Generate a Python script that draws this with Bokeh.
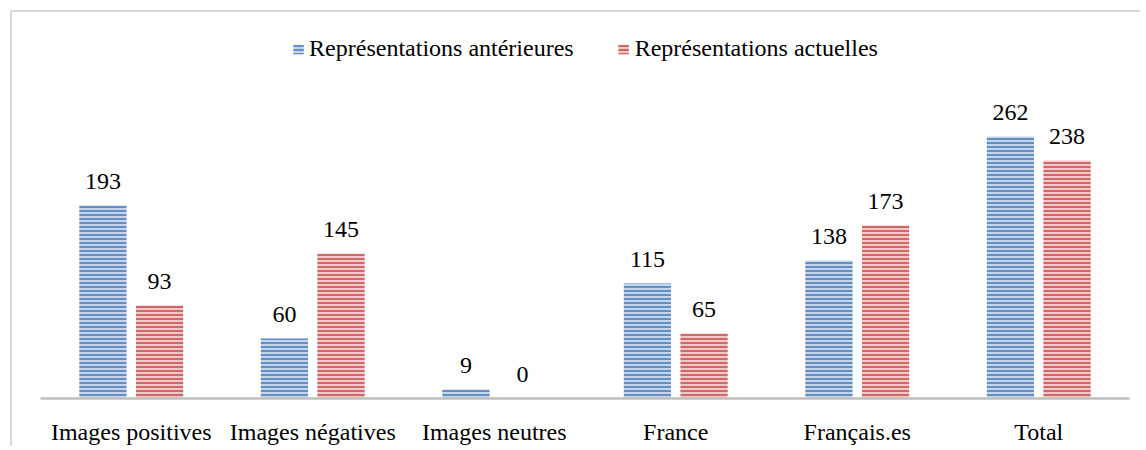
from bokeh.plotting import figure
from bokeh.models import ColumnDataSource, Range1d, LabelSet, Legend, LegendItem
from bokeh.core.properties import value
from bokeh.transform import dodge
from bokeh.embed import file_html
from bokeh.resources import INLINE

categories = ["Images positives", "Images négatives", "Images neutres", "France", "Français.es", "Total"]
anterieures = [193, 60, 9, 115, 138, 262]
actuelles = [93, 145, 0, 65, 173, 238]
series_names = ["Représentations antérieures", "Représentations actuelles"]

FONT = "Liberation Serif"
FS = "24px"

src = ColumnDataSource(dict(
    cat=categories,
    ant=anterieures,
    act=actuelles,
    ant_txt=[str(v) for v in anterieures],
    act_txt=[str(v) for v in actuelles],
))

p = figure(x_range=categories, y_range=Range1d(0, 386), width=1130, height=436,
           output_backend="svg", toolbar_location=None,
           min_border_left=28, min_border_right=13, min_border_top=0, min_border_bottom=50)
p.styles = {"border-left": "2px solid #d9d9d9", "border-top": "2px solid #d9d9d9",
            "margin-left": "10px", "margin-top": "10px"}

off = 0.156
w = 0.26
r1 = p.vbar(x=dodge("cat", -off, range=p.x_range), top="ant", width=w, source=src,
            fill_color="#c4d5ec", line_color=None,
            hatch_pattern="horizontal_line", hatch_color="#4a7ebb", hatch_scale=4, hatch_weight=1.6)
r2 = p.vbar(x=dodge("cat", off, range=p.x_range), top="act", width=w, source=src,
            fill_color="#f0c8c7", line_color=None,
            hatch_pattern="horizontal_line", hatch_color="#c6504d", hatch_scale=4, hatch_weight=1.6)

for col, txt, o in (("ant", "ant_txt", -off), ("act", "act_txt", off)):
    p.add_layout(LabelSet(x=dodge("cat", o, range=p.x_range), y=col, text=txt, source=src,
                          text_align="center", text_baseline="alphabetic", y_offset=17,
                          text_font=value(FONT), text_font_size=value(FS), text_color="#000000"))

legend = Legend(items=[LegendItem(label=series_names[0], renderers=[r1]),
                       LegendItem(label=series_names[1], renderers=[r2])],
                orientation="horizontal", location="top_center",
                label_text_font=FONT, label_text_font_size=FS, label_text_color="#000000",
                glyph_width=13, glyph_height=12, label_standoff=5, spacing=43,
                padding=0, margin=23, border_line_color=None, background_fill_alpha=0)
p.add_layout(legend, "center")

p.yaxis.visible = False
p.xgrid.grid_line_color = None
p.ygrid.grid_line_color = None
p.outline_line_color = None
p.xaxis.axis_line_color = "#bfbfbf"
p.xaxis.axis_line_width = 2.5
p.xaxis.major_tick_line_color = None
p.xaxis.minor_tick_line_color = None
p.xaxis.major_label_text_font = FONT
p.xaxis.major_label_text_font_size = FS
p.xaxis.major_label_text_color = "#000000"
p.xaxis.major_label_standoff = 14
p.x_range.range_padding = 0

open("out.html", "w").write(file_html(p, INLINE))
